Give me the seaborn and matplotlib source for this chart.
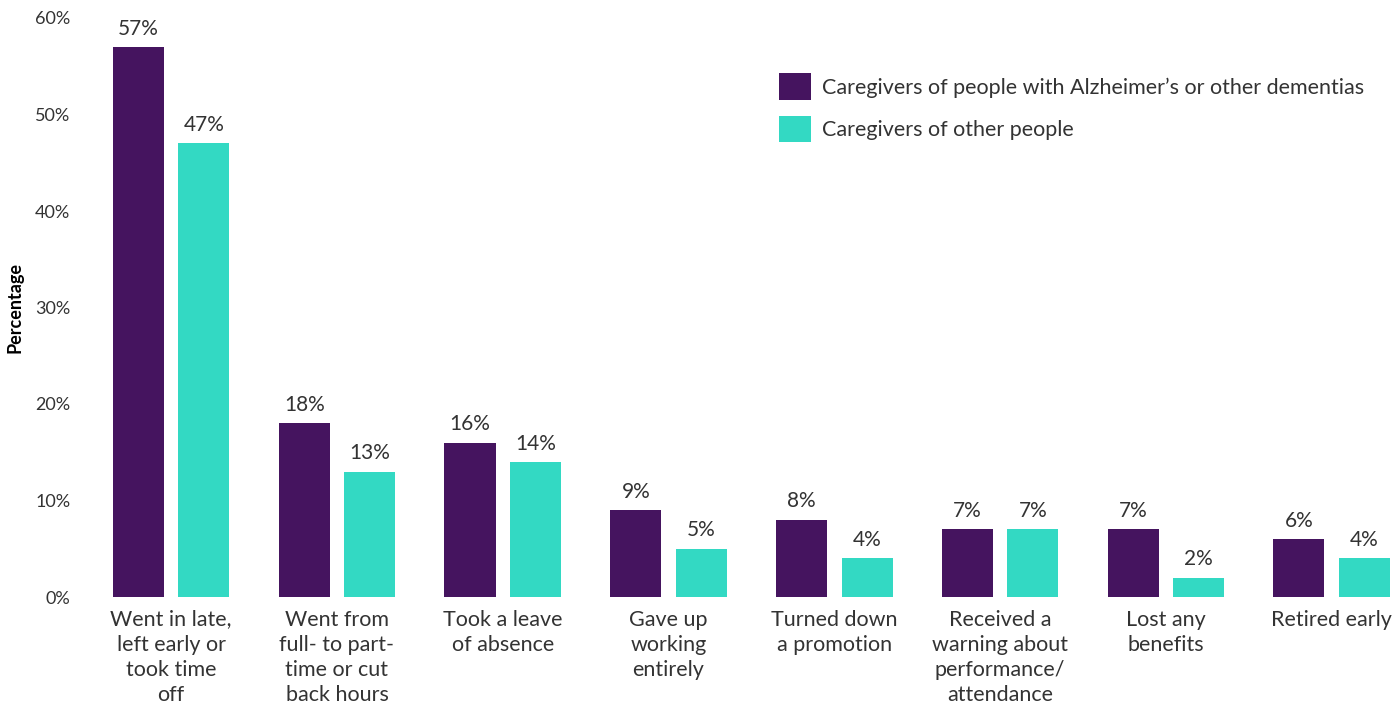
import pandas as pd
import matplotlib.pyplot as plt
import seaborn as sns

# data
categories = ["Went in late,\nleft early or\ntook time\noff",
              "Went from\nfull- to part-\ntime or cut\nback hours",
              "Took a leave\nof absence",
              "Gave up\nworking\nentirely",
              "Turned down\na promotion",
              "Received a\nwarning about\nperformance/\nattendance",
              "Lost any\nbenefits",
              "Retired early"]
dementia = [57, 18, 16, 9, 8, 7, 7, 6]
other = [47, 13, 14, 5, 4, 7, 2, 4]
series = ["Caregivers of people with Alzheimer\u2019s or other dementias",
          "Caregivers of other people"]
yticks = [0, 10, 20, 30, 40, 50, 60]

df = pd.DataFrame({
    "category": categories * 2,
    "group": [series[0]] * len(categories) + [series[1]] * len(categories),
    "value": dementia + other,
})

sns.set_style("white")
plt.rcParams['font.family'] = ['Lato', 'DejaVu Sans']
text_col = "#333333"

fig = plt.figure(figsize=(13.93, 7.04), dpi=100)
ax = fig.add_axes([80 / 1393, 107 / 704, 1 - 80 / 1393, 579 / 704])

sns.barplot(data=df, x="category", y="value", hue="group", hue_order=series,
            palette=["#45145F", "#33D9C3"], saturation=1, width=0.79, gap=0.22,
            edgecolor="none", ax=ax)

for c in ax.containers:
    ax.bar_label(c, fmt="%d%%", padding=6, fontsize=15, color=text_col)

ax.set_ylim(0, 60)
ax.set_xlim(-0.55, 7.37)
ax.set_yticks(yticks)
ax.set_yticklabels([f"{t}%" for t in yticks])
ax.tick_params(axis="y", length=0, pad=7, labelsize=13, labelcolor=text_col)
ax.tick_params(axis="x", length=0, pad=9, labelsize=15.5, labelcolor=text_col)
for lab in ax.get_xticklabels():
    lab.set_linespacing(1.33)
ax.set_xlabel("")
ax.set_ylabel("Percentage", fontsize=13, fontweight="bold", color="black", labelpad=8)
sns.despine(ax=ax, left=True, bottom=True)

handles, labels = ax.get_legend_handles_labels()
ax.legend(handles, labels, loc="upper left", bbox_to_anchor=(760 / 1393, 1 - 54 / 704),
          bbox_transform=fig.transFigure, frameon=False, fontsize=15.5,
          handlelength=1.45, handleheight=1.5, handletextpad=0.55, labelspacing=0.75,
          labelcolor=text_col)

plt.savefig("out.png", dpi=100)
